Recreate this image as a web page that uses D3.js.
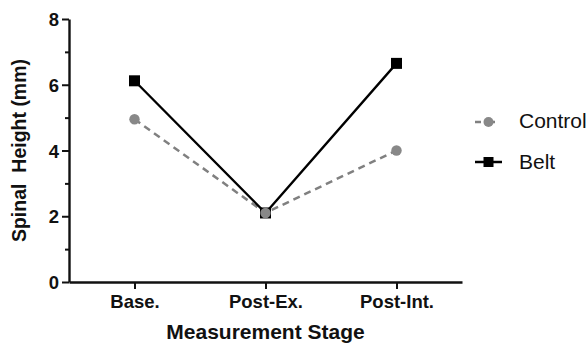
<!DOCTYPE html>
<html>
<head>
<meta charset="utf-8">
<script src="https://cdn.jsdelivr.net/npm/d3@7"></script>
<style>
  body { margin: 0; background: #fff; }
  text { font-family: "Liberation Sans", Arial, sans-serif; }
</style>
</head>
<body>
<div id="chart"></div>
<script>
var stages = ["Base.", "Post-Ex.", "Post-Int."];
var control = [4.95, 2.1, 4.0];
var belt = [6.12, 2.1, 6.65];
var yTicks = [0, 2, 4, 6, 8];
var yMinorTicks = [1, 3, 5, 7];

var width = 588, height = 350;
var margin = { left: 69, top: 19, right: 126, bottom: 68 };

var svg = d3.select("#chart").append("svg")
  .attr("width", width)
  .attr("height", height);

var x = d3.scalePoint()
  .domain(stages)
  .range([margin.left, width - margin.right])
  .padding(0.5);

var y = d3.scaleLinear()
  .domain([0, 8])
  .range([height - margin.bottom, margin.top]);

// minor ticks on y
svg.append("g")
  .attr("transform", "translate(" + margin.left + ",0)")
  .call(d3.axisLeft(y).tickValues(yMinorTicks).tickSize(4).tickFormat(""))
  .call(g => g.select(".domain").remove())
  .selectAll("line").attr("stroke", "#111").attr("stroke-width", 2);

var yAxis = svg.append("g")
  .attr("transform", "translate(" + margin.left + ",0)")
  .call(d3.axisLeft(y).tickValues(yTicks).tickSize(7).tickSizeOuter(0).tickPadding(3));

var xAxis = svg.append("g")
  .attr("transform", "translate(0," + (height - margin.bottom) + ")")
  .call(d3.axisBottom(x).tickSize(7).tickSizeOuter(0).tickPadding(6));

[yAxis, xAxis].forEach(g => {
  g.select(".domain").attr("stroke", "#111").attr("stroke-width", 2.4);
  g.selectAll("line").attr("stroke", "#111").attr("stroke-width", 2);
  g.selectAll("text")
    .attr("fill", "#111")
    .attr("font-size", 18.5)
    .attr("font-weight", "bold")
    .style("font-family", "Liberation Sans, Arial, sans-serif");
});
xAxis.selectAll("text").attr("dy", null).attr("y", 26);
yAxis.selectAll("text").attr("dy", "0.36em");

// axis titles
svg.append("text")
  .attr("x", x("Post-Ex."))
  .attr("y", 339)
  .attr("text-anchor", "middle")
  .attr("font-size", 21)
  .attr("font-weight", "bold")
  .attr("fill", "#111")
  .text("Measurement Stage");

svg.append("text")
  .attr("transform", "translate(26," + y(4) + ") rotate(-90)")
  .attr("text-anchor", "middle")
  .attr("font-size", 19.5)
  .attr("font-weight", "bold")
  .attr("fill", "#111")
  .style("white-space", "pre")
  .text("Spinal  Height (mm)");

var line = d3.line()
  .x((d, i) => x(stages[i]))
  .y(d => y(d));

// control series (dashed grey, circles)
svg.append("path")
  .datum(control)
  .attr("d", line)
  .attr("fill", "none")
  .attr("stroke", "#808080")
  .attr("stroke-width", 2.5)
  .attr("stroke-dasharray", "7,5");

// belt series (solid black, squares)
svg.append("path")
  .datum(belt)
  .attr("d", line)
  .attr("fill", "none")
  .attr("stroke", "#000")
  .attr("stroke-width", 2.3);

svg.selectAll(".belt-pt")
  .data(belt)
  .enter()
  .append("rect")
  .attr("x", (d, i) => x(stages[i]) - 5.5)
  .attr("y", d => y(d) - 5.5)
  .attr("width", 11)
  .attr("height", 11)
  .attr("fill", "#000");

svg.selectAll(".control-pt")
  .data(control)
  .enter()
  .append("circle")
  .attr("cx", (d, i) => x(stages[i]))
  .attr("cy", d => y(d))
  .attr("r", 5.2)
  .attr("fill", "#888");

// legend
var legend = svg.append("g").attr("transform", "translate(475,0)");

legend.append("line")
  .attr("x1", 0).attr("x2", 27)
  .attr("y1", 122).attr("y2", 122)
  .attr("stroke", "#808080")
  .attr("stroke-width", 2.5)
  .attr("stroke-dasharray", "6,8");
legend.append("circle")
  .attr("cx", 13.5).attr("cy", 122).attr("r", 5)
  .attr("fill", "#888");
legend.append("text")
  .attr("x", 44).attr("y", 128)
  .attr("font-size", 21)
  .attr("fill", "#111")
  .text("Control");

legend.append("line")
  .attr("x1", 0).attr("x2", 27)
  .attr("y1", 162).attr("y2", 162)
  .attr("stroke", "#000")
  .attr("stroke-width", 2.5);
legend.append("rect")
  .attr("x", 8.5).attr("y", 157).attr("width", 10).attr("height", 10)
  .attr("fill", "#000");
legend.append("text")
  .attr("x", 44).attr("y", 169)
  .attr("font-size", 21)
  .attr("fill", "#111")
  .text("Belt");
</script>
</body>
</html>
